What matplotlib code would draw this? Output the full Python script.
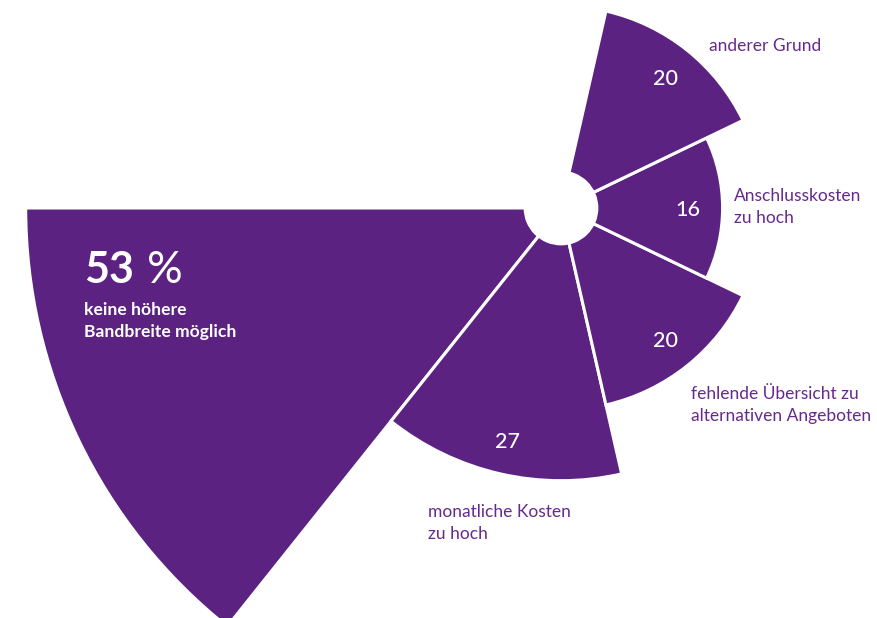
import numpy as np
import matplotlib
matplotlib.use('Agg')
import matplotlib.pyplot as plt

# data, counterclockwise starting at 9 o'clock
labels = ['keine höhere\nBandbreite möglich', 'monatliche Kosten\nzu hoch',
          'fehlende Übersicht zu\nalternativen Angeboten', 'Anschlusskosten\nzu hoch',
          'anderer Grund']
values = [53, 27, 20, 16, 20]

purple = '#5b2281'
label_color = '#66298d'
plt.rcParams['font.family'] = ['Lato', 'DejaVu Sans']

W, H = 877, 618
cx, cy = 561, 208          # centre of the rose, pixels from top-left
scale = 10.1               # pixels per percent
rmax = 60
hole = 3.7

fig = plt.figure(figsize=(W / 100, H / 100), dpi=100)
R = rmax * scale
ax = fig.add_axes([(cx - R) / W, (H - cy - R) / H, 2 * R / W, 2 * R / H], projection='polar')
ax.set_ylim(0, rmax)
ax.axis('off')

n_slots = 7
width = 2 * np.pi / n_slots
thetas = np.pi + width / 2 + width * np.arange(len(values))
ax.bar(thetas, values, width=width, bottom=0, color=purple, edgecolor='white',
       linewidth=2.2, zorder=2)
ax.bar(0, hole, width=2 * np.pi, bottom=0, color='white', linewidth=0, zorder=3)

# value labels inside the small wedges
for th, v in zip(thetas[1:], values[1:]):
    ax.text(th, v - 3.4, str(v), color='white', fontsize=15.5, fontweight='medium',
            ha='center', va='center_baseline', zorder=4)

# overlay axes in pixel coordinates for the category texts
ov = fig.add_axes([0, 0, 1, 1])
ov.set_xlim(0, W)
ov.set_ylim(H, 0)
ov.axis('off')

ov.text(84, 283, f'{values[0]}', color='white', fontsize=31, fontweight='bold',
        ha='left', va='baseline')
ov.text(147, 283, '%', color='white', fontsize=32, fontweight='normal',
        ha='left', va='baseline')
ov.text(84, 321, labels[0], color='white', fontsize=12.6, fontweight='bold',
        ha='left', va='center', linespacing=1.5)

label_pos = [None, (428, 523), (691, 405), (734, 207), (709, 46)]
for lab, pos in zip(labels[1:], label_pos[1:]):
    ov.text(pos[0], pos[1], lab, color=label_color, fontsize=12.5, ha='left',
            va='center', linespacing=1.5)

fig.savefig('out.png', dpi=100)
